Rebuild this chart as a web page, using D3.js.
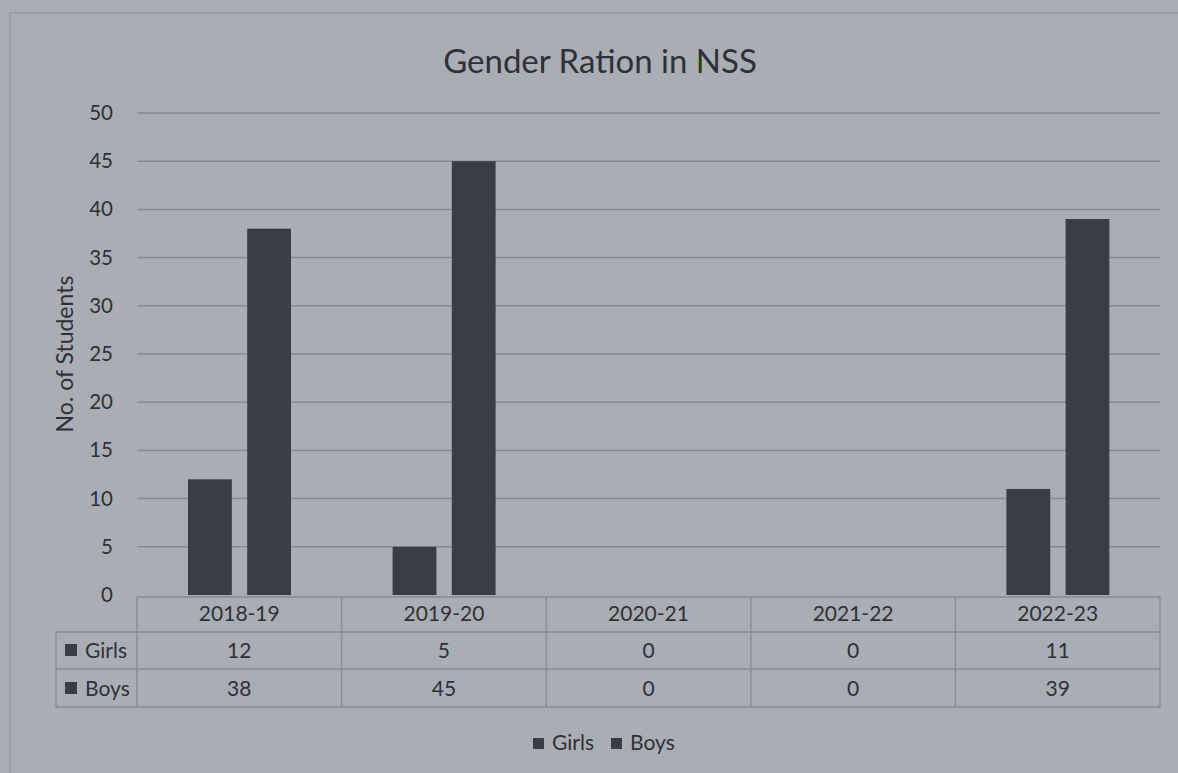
<!DOCTYPE html>
<html>
<head>
<meta charset="utf-8">
<script src="https://cdn.jsdelivr.net/npm/d3@7"></script>
<style>
  body { margin: 0; background: #a9acb3; }
  text { font-family: Lato, "Open Sans", sans-serif; fill: #2e3137; }
</style>
</head>
<body>
<div id="paper"></div>
<script>

// chart data.

const categories = ["2018-19", "2019-20", "2020-21", "2021-22", "2022-23"]
const series_names = ["Girls", "Boys"]
const girls = [12, 5, 0, 0, 11]
const boys = [38, 45, 0, 0, 39]
const y_ticks = [0, 5, 10, 15, 20, 25, 30, 35, 40, 45, 50]

const bar_color = "#3a3d44"
const grid_color = "#878a91"

let svg = d3.select("#paper")
    .append("svg")
    .attr("id", "canvas")
    .attr("width", 1178)
    .attr("height", 773)

// outer frame of the chart.

svg.append("rect")
    .attr("x", 10).attr("y", 13)
    .attr("width", 1200).attr("height", 800)
    .style("fill", "#aaadb4")
    .style("stroke", "#8d9097")

// scales.

let x = d3.scaleBand().domain(categories).range([137, 1160])
let y = d3.scaleLinear().domain([0, 50]).range([595, 113])
let x_inner = d3.scaleBand().domain(series_names).range([51, 154]).paddingInner(0.26)

// title.

svg.append("text")
    .attr("x", 600).attr("y", 73)
    .attr("text-anchor", "middle")
    .style("font-size", "33px")
    .text("Gender Ration in NSS")

// gridlines and y axis labels.

svg.append("g")
    .selectAll(".grid")
    .data(y_ticks.filter(d => d > 0))
    .join("line")
    .attr("class", "grid")
    .attr("x1", 137).attr("x2", 1160)
    .attr("y1", d => y(d)).attr("y2", d => y(d))
    .style("stroke", grid_color)
    .style("stroke-width", 1.5)

let y_axis = d3.axisLeft(y).tickValues(y_ticks).tickSize(0).tickPadding(24)
svg.append("g")
    .attr("transform", "translate(137,0)")
    .call(y_axis)
    .call(g => g.select(".domain").remove())
    .selectAll("text")
    .style("font-size", "20.5px")
    .style("font-family", "Lato, sans-serif")
    .style("fill", "#2e3137")

svg.append("text")
    .attr("transform", "translate(73,354) rotate(-90)")
    .attr("text-anchor", "middle")
    .style("font-size", "23px")
    .text("No. of Students")

// bars.

let rows = categories.map((c, i) => ({ cat: c, Girls: girls[i], Boys: boys[i] }))

series_names.forEach(s => {
    svg.append("g")
        .selectAll(".bar_" + s)
        .data(rows)
        .join("rect")
        .attr("class", "bar_" + s)
        .attr("x", d => x(d.cat) + x_inner(s))
        .attr("y", d => y(d[s]))
        .attr("width", x_inner.bandwidth())
        .attr("height", d => y(0) - y(d[s]))
        .style("fill", bar_color)
})

// data table under the axis.

let row_y = [597, 632, 669, 707]
let baselines = [621, 658, 696]
let table = svg.append("g")

// horizontal lines.

table.append("line").attr("x1", 137).attr("x2", 1160).attr("y1", row_y[0]).attr("y2", row_y[0])
table.selectAll(".hline")
    .data(row_y.slice(1))
    .join("line")
    .attr("class", "hline")
    .attr("x1", 56).attr("x2", 1160)
    .attr("y1", d => d).attr("y2", d => d)

// vertical lines.

table.selectAll(".vline")
    .data(categories)
    .join("line")
    .attr("class", "vline")
    .attr("x1", d => x(d)).attr("x2", d => x(d))
    .attr("y1", row_y[0]).attr("y2", row_y[3])
table.append("line").attr("x1", 1160).attr("x2", 1160).attr("y1", row_y[0]).attr("y2", row_y[3])
table.append("line").attr("x1", 56).attr("x2", 56).attr("y1", row_y[1]).attr("y2", row_y[3])
table.selectAll("line").style("stroke", grid_color).style("stroke-width", 1.3)

// category labels.

table.selectAll(".cat_label")
    .data(categories)
    .join("text")
    .attr("class", "cat_label")
    .attr("x", d => x(d) + x.bandwidth() / 2)
    .attr("y", baselines[0])
    .attr("text-anchor", "middle")
    .style("font-size", "21px")
    .text(d => d)

// value rows.

let series_values = [girls, boys]
series_names.forEach((s, k) => {
    let cy = baselines[k + 1]
    table.append("rect")
        .attr("x", 65).attr("y", cy - 14)
        .attr("width", 12).attr("height", 12)
        .style("fill", bar_color)
    table.append("text")
        .attr("x", 85).attr("y", cy)
        .style("font-size", "21px")
        .text(s)
    table.selectAll(".val_" + s)
        .data(series_values[k])
        .join("text")
        .attr("class", "val_" + s)
        .attr("x", (d, i) => x(categories[i]) + x.bandwidth() / 2)
        .attr("y", cy)
        .attr("text-anchor", "middle")
        .style("font-size", "21px")
        .text(d => d)
})

// legend.

let legend = svg.append("g").attr("transform", "translate(533,750)")
let legend_x = [0, 78]
series_names.forEach((s, k) => {
    legend.append("rect")
        .attr("x", legend_x[k]).attr("y", -12)
        .attr("width", 11).attr("height", 11)
        .style("fill", bar_color)
    legend.append("text")
        .attr("x", legend_x[k] + 19).attr("y", 0)
        .style("font-size", "21px")
        .text(s)
})

</script>
</body>
</html>
